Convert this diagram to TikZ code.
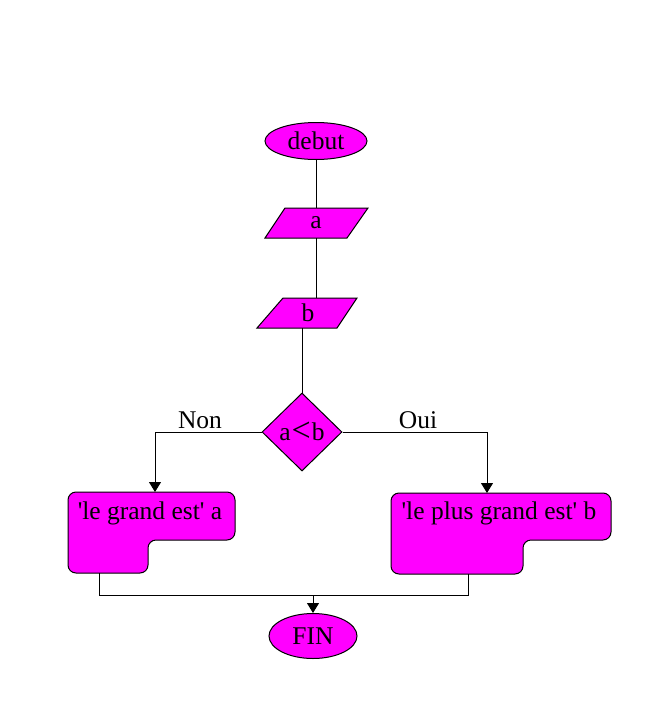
\documentclass[tikz,border=0pt]{standalone}
\usepackage{fontspec}
\setmainfont{Liberation Serif}[Ligatures=TeXOff]
\usetikzlibrary{shapes.geometric,arrows.meta}
\definecolor{mag}{HTML}{FF00FF}
\tikzset{
  every node/.style={font=\fontsize{25.5}{30}\selectfont, inner sep=0pt},
  term/.style={ellipse, draw, fill=mag, line width=1pt},
  dec/.style={diamond, draw, fill=mag, line width=1pt, minimum width=80pt, minimum height=78pt},
  shapeline/.style={draw=black, fill=mag, line width=1pt},
  conn/.style={line width=1pt},
  arr/.style={conn, -{Triangle[width=12pt,length=10pt]}},
  iobox/.style={minimum width=60pt, minimum height=30pt},
  lbl/.style={}
}
\begin{document}
\begin{tikzpicture}[x=1pt,y=-1pt]
\useasboundingbox (0,0) rectangle (650,725);
% parallelograms
\path[shapeline] (265,238) -- (285,208) -- (368,208) -- (347,238) -- cycle;
\path[shapeline] (257,328) -- (283,298) -- (357,298) -- (337,328) -- cycle;
% notched display boxes
\path[shapeline, rounded corners=8pt] (68,573) -- (68,492) -- (235,492) -- (235,540) -- (148,540) -- (148,573) -- cycle;
\path[shapeline, rounded corners=8pt] (391,574) -- (391,493) -- (611,493) -- (611,540) -- (523,540) -- (523,574) -- cycle;
% nodes
\node[term, minimum width=102pt, minimum height=37pt] (debut) at (316,141) {debut};
\node[iobox] (a) at (316,223) {a};
\node[iobox] (b) at (308,313) {b};
\node[dec] (dia) at (302,432) {a\kern1pt\raisebox{-1pt}{\fontsize{34}{34}\selectfont<}\kern1pt b};
\node (ltxt) at (150,513) {'le grand est' a};
\node (rtxt) at (499,513) {'le plus grand est' b};
\node[term, minimum width=88pt, minimum height=45pt] (fin) at (313,636) {FIN};
\node[lbl] (non) at (200,420) {Non};
\node[lbl] (oui) at (418,420) {Oui};
% connector points
\coordinate (ltop) at (155,492);
\coordinate (rtop) at (487,493);
\coordinate (lbot) at (99,573);
\coordinate (rbot) at (468,574);
\coordinate (join) at (313,595);
% connectors
\draw[conn] (debut.south) -- (a.north);
\draw[conn] (a.south) -- (a.south |- b.north);
\draw[conn] (dia.north |- b.south) -- (dia.north);
\draw[arr] (dia.west) -| (ltop);
\draw[arr] (dia.east) -| (rtop);
\draw[conn] (lbot) |- (join);
\draw[conn] (rbot) |- (join);
\draw[arr] (join) -- (fin.north);
\end{tikzpicture}
\end{document}
